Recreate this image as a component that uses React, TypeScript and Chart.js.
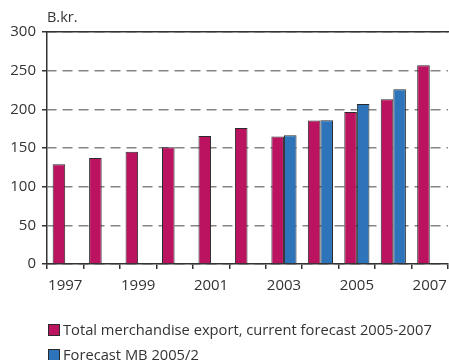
import React, { useEffect, useRef } from "react";
import { Chart, registerables } from "chart.js";

Chart.register(...registerables);

const years = ["1997", "1998", "1999", "2000", "2001", "2002", "2003", "2004", "2005", "2006", "2007"];
const totalExport = [129, 137, 145, 151, 165.5, 176, 165, 185.5, 196.5, 213, 257];
const forecastMB = [null, null, null, null, null, null, 166.5, 186, 207, 226, null];
const yTicks = [0, 50, 100, 150, 200, 250, 300];
const seriesNames = ["Total merchandise export, current forecast 2005-2007", "Forecast MB 2005/2"];
const unitLabel = "B.kr.";

const RED = "#BC1360";
const BLUE = "#2E74BA";
const DARK = "#333333";
const FONT = "'Open Sans', sans-serif";

const unitPlugin = {
  id: "unitLabel",
  afterDraw(chart: any) {
    const ctx = chart.ctx;
    ctx.save();
    ctx.font = `14.5px ${FONT}`;
    ctx.fillStyle = DARK;
    ctx.textAlign = "left";
    ctx.textBaseline = "middle";
    ctx.fillText(unitLabel, chart.chartArea.left, 18);
    ctx.restore();
  },
};

export default function App() {
  const ref = useRef<HTMLCanvasElement>(null);
  useEffect(() => {
    if (!ref.current) return;
    const chart = new Chart(ref.current, {
      type: "bar",
      data: {
        labels: years,
        datasets: [
          {
            label: seriesNames[0],
            data: totalExport,
            backgroundColor: RED,
            borderColor: "#2a2a2a",
            borderWidth: 1,
          },
          {
            label: seriesNames[1],
            data: forecastMB as any,
            backgroundColor: BLUE,
            borderColor: "#2a2a2a",
            borderWidth: 1,
          },
        ],
      },
      options: {
        animation: false,
        responsive: false,
        maintainAspectRatio: false,
        layout: { padding: { top: 32, right: 1, left: 0, bottom: 0 } },
        datasets: { bar: { categoryPercentage: 0.69, barPercentage: 1 } },
        plugins: { legend: { display: false }, tooltip: { enabled: false } },
        scales: {
          x: {
            type: "category",
            offset: true,
            grid: {
              offset: true,
              drawOnChartArea: false,
              drawTicks: true,
              tickLength: 5,
              tickColor: DARK,
              tickWidth: 1.5,
              lineWidth: 1.5,
              color: DARK,
            },
            border: { color: DARK, width: 1.5 },
            ticks: {
              autoSkip: false,
              maxRotation: 0,
              padding: 8,
              color: DARK,
              font: { family: FONT, size: 15 },
              callback: (_v: any, i: number) => (i % 2 === 0 ? years[i] : ""),
            },
            afterFit: (s: any) => {
              s.height = 36;
              s.paddingLeft = 0;
              s.paddingRight = 0;
            },
          },
          x2: {
            type: "category",
            position: "top",
            labels: years,
            grid: { display: false, drawTicks: false },
            ticks: { display: false },
            border: { color: DARK, width: 1.5 },
            afterFit: (s: any) => {
              s.height = 0;
              s.paddingLeft = 0;
              s.paddingRight = 0;
            },
          },
          y: {
            min: 0,
            max: 300,
            afterBuildTicks: (s: any) => {
              s.ticks = yTicks.map((v) => ({ value: v }));
            },
            grid: {
              color: "#858585",
              lineWidth: 1.5,
              tickLength: 5,
              tickColor: DARK,
              tickBorderDash: [],
            },
            border: { display: true, color: DARK, width: 1.5, dash: [10, 6], dashOffset: 1 },
            ticks: {
              padding: 6,
              color: DARK,
              font: { family: FONT, size: 15 },
            },
            afterFit: (s: any) => {
              s.width = 47;
            },
          },
        },
      },
      plugins: [unitPlugin],
    });
    return () => chart.destroy();
  }, []);

  const legendItem = (color: string, text: string) => (
    <div style={{ display: "flex", alignItems: "center", height: 25 }}>
      <span
        style={{
          display: "inline-block",
          width: 10,
          height: 10,
          background: color,
          border: "1px solid #2a2a2a",
          marginRight: 3,
        }}
      />
      <span>{text}</span>
    </div>
  );

  return (
    <div style={{ position: "fixed", left: 0, top: 0, width: 449, height: 360, background: "#fff" }}>
      <canvas ref={ref} width={449} height={300} style={{ display: "block" }} />
      <div
        style={{
          position: "absolute",
          left: 48,
          top: 317,
          fontFamily: FONT,
          fontSize: 14.7,
          color: DARK,
          lineHeight: "25px",
          whiteSpace: "nowrap",
        }}
      >
        {legendItem(RED, seriesNames[0])}
        {legendItem(BLUE, seriesNames[1])}
      </div>
    </div>
  );
}
